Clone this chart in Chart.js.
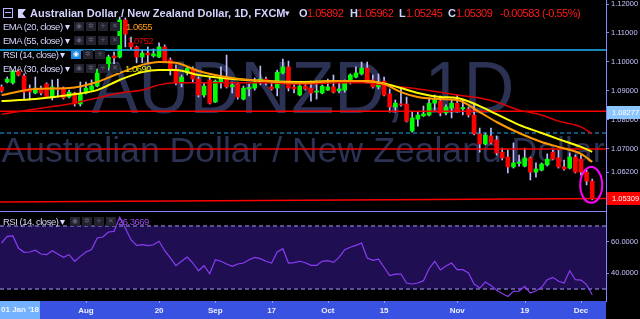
<!DOCTYPE html>
<html>
<head>
<meta charset="utf-8">
<title>AUDNZD 1D</title>
<script src="https://cdn.jsdelivr.net/npm/chart.js@4.4.1/dist/chart.umd.min.js"></script>
<style>
  html, body { margin: 0; padding: 0; background: #000; }
  #wrap { position: relative; width: 640px; height: 319px; overflow: hidden; background: #000; }
  canvas { position: absolute; left: 0; }
  #price { top: 0; }
  #rsi { top: 211px; }
  .t { position: absolute; white-space: nowrap; font-family: "Liberation Sans", Arial, sans-serif; line-height: 12px; }
  .lav { color: #d2d2ff; }
  .red { color: #ff1a1a; }
  .leg { font-size: 9.5px; letter-spacing: -0.5px; color: #d6d6ff; }
  .num { font-size: 11px; letter-spacing: -0.5px; }
  .ico { position: absolute; width: 10px; height: 9px; background: #23232f; color: #62627a; font: 7px/9px "DejaVu Sans", sans-serif; text-align: center; }
  .ico.on { background: #1e88e5; color: #fff; }
</style>
</head>
<body>
<div id="wrap">
  <canvas id="price" width="640" height="211"></canvas>
  <canvas id="rsi" width="640" height="108"></canvas>

  <!-- header -->
  <div style="position:absolute;left:3px;top:8px;width:8px;height:8px;border:1px solid #b8b8ff;"></div>
  <div style="position:absolute;left:5px;top:12px;width:6px;height:1px;background:#b8b8ff;"></div>
  <div style="position:absolute;left:18px;top:9px;width:8px;height:9px;background:#d2d2ff;clip-path:polygon(0 0,100% 0,55% 50%,100% 100%,0 100%);"></div>
  <div class="t lav" style="left:30px;top:7px;font-size:11px;font-weight:bold;">Australian Dollar / New Zealand Dollar, 1D, FXCM</div>
  <div class="t lav" style="left:285px;top:7px;font-size:9px;">▾</div>
  <div class="t lav num" style="left:299px;top:7px;font-weight:bold;">O</div><div id="hO" class="t red num" style="left:307px;top:7px;"></div>
  <div class="t lav num" style="left:350px;top:7px;font-weight:bold;">H</div><div id="hH" class="t red num" style="left:357px;top:7px;"></div>
  <div class="t lav num" style="left:399px;top:7px;font-weight:bold;">L</div><div id="hL" class="t red num" style="left:406px;top:7px;"></div>
  <div class="t lav num" style="left:448px;top:7px;font-weight:bold;">C</div><div id="hC" class="t red num" style="left:456px;top:7px;"></div>
  <div id="hChg" class="t red num" style="left:500px;top:7px;"></div>

  <!-- indicator legends -->
  <div class="t leg" style="left:3px;top:21px;">EMA (20, close) ▾</div>
  <div class="ico" style="left:74px;top:22px;">◉</div><div class="ico" style="left:86px;top:22px;">✲</div><div class="ico" style="left:98px;top:22px;">+</div><div class="ico" style="left:110px;top:22px;">✕</div>
  <div id="v20" class="t leg" style="left:126px;top:21px;color:#ff9f1a;"></div>

  <div class="t leg" style="left:3px;top:35px;">EMA (55, close) ▾</div>
  <div class="ico" style="left:74px;top:36px;">◉</div><div class="ico" style="left:86px;top:36px;">✲</div><div class="ico" style="left:98px;top:36px;">+</div><div class="ico" style="left:110px;top:36px;">✕</div>
  <div id="v55" class="t leg" style="left:127px;top:35px;color:#e00000;"></div>

  <div class="t leg" style="left:3px;top:49px;">RSI (14, close) ▾</div>
  <div class="ico on" style="left:71px;top:50px;">◉</div><div class="ico" style="left:83px;top:50px;">✲</div><div class="ico" style="left:95px;top:50px;">+</div>

  <div class="t leg" style="left:3px;top:63px;">EMA (30, close) ▾</div>
  <div class="ico" style="left:74px;top:64px;">◉</div><div class="ico" style="left:86px;top:64px;">✲</div><div class="ico" style="left:98px;top:64px;">+</div><div class="ico" style="left:110px;top:64px;">✕</div>
  <div id="v30" class="t leg" style="left:125px;top:63px;color:#e8e800;"></div>

  <div class="t leg" style="left:3px;top:216px;">RSI (14, close) ▾</div>
  <div class="ico" style="left:70px;top:217px;">◉</div><div class="ico" style="left:82px;top:217px;">✲</div><div class="ico" style="left:94px;top:217px;">+</div><div class="ico" style="left:106px;top:217px;">✕</div>
  <div id="vRsi" class="t leg" style="left:118px;top:216px;color:#9b4dff;"></div>
</div>

<script>
// daily candles, 11 Jul 2018 .. 5 Dec 2018 (index 0..105)
const opens = [
  1.0914, 1.0931, 1.0928, 1.0969, 1.0952, 1.0908, 1.0893, 1.0910, 1.0924, 1.0879,
  1.0910, 1.0910, 1.0879, 1.0893, 1.0855, 1.0893, 1.0903, 1.0917, 1.0972, 1.0979,
  1.1021, 1.1017, 1.1145, 1.1066, 1.1052, 1.1017, 1.1031, 1.1021, 1.1017, 1.1052,
  1.1007, 1.0976, 1.0928, 1.0962, 1.0976, 1.0941, 1.0886, 1.0938, 1.0862, 1.0931,
  1.0945, 1.0914, 1.0924, 1.0872, 1.0907, 1.0910, 1.0931, 1.0941, 1.0914, 1.0910,
  1.0962, 1.0983, 1.0914, 1.0886, 1.0917, 1.0910, 1.0896, 1.0893, 1.0903, 1.0914,
  1.0900, 1.0903, 1.0928, 1.0948, 1.0959, 1.0979, 1.0938, 1.0914, 1.0934, 1.0890,
  1.0845, 1.0855, 1.0855, 1.0762, 1.0803, 1.0814, 1.0817, 1.0858, 1.0865, 1.0824,
  1.0841, 1.0858, 1.0838, 1.0838, 1.0817, 1.0752, 1.0717, 1.0745, 1.0731, 1.0689,
  1.0672, 1.0638, 1.0650, 1.0641, 1.0669, 1.0620, 1.0627, 1.0645, 1.0689, 1.0669,
  1.0638, 1.0634, 1.0672, 1.0665, 1.0620, 1.05892
];
const highs = [
  1.0921, 1.0948, 1.0972, 1.0972, 1.0959, 1.0921, 1.0948, 1.0917, 1.0928, 1.0938,
  1.0941, 1.0914, 1.0903, 1.0896, 1.0931, 1.0931, 1.0938, 1.0976, 1.0990, 1.1024,
  1.1034, 1.1155, 1.1152, 1.1086, 1.1055, 1.1041, 1.1052, 1.1045, 1.1066, 1.1059,
  1.1014, 1.0990, 1.0955, 1.0983, 1.0983, 1.0948, 1.0928, 1.0948, 1.0938, 1.0983,
  1.1024, 1.0931, 1.0931, 1.0917, 1.0924, 1.0945, 1.0986, 1.0948, 1.0934, 1.0972,
  1.1010, 1.1003, 1.0921, 1.0928, 1.0931, 1.0934, 1.0934, 1.0921, 1.0941, 1.0955,
  1.0928, 1.0938, 1.0959, 1.0983, 1.1000, 1.1000, 1.0955, 1.0959, 1.0948, 1.0907,
  1.0869, 1.0910, 1.0879, 1.0827, 1.0827, 1.0848, 1.0876, 1.0886, 1.0883, 1.0852,
  1.0872, 1.0886, 1.0869, 1.0845, 1.0858, 1.0772, 1.0755, 1.0772, 1.0745, 1.0703,
  1.0696, 1.0721, 1.0679, 1.0703, 1.0672, 1.0652, 1.0652, 1.0683, 1.0696, 1.0696,
  1.0662, 1.0686, 1.0679, 1.0679, 1.0627, 1.05962
];
const lows = [
  1.0896, 1.0928, 1.0924, 1.0952, 1.0869, 1.0869, 1.0890, 1.0886, 1.0876, 1.0869,
  1.0879, 1.0872, 1.0876, 1.0848, 1.0848, 1.0890, 1.0900, 1.0914, 1.0965, 1.0972,
  1.0986, 1.1014, 1.1052, 1.1045, 1.0997, 1.0997, 1.0997, 1.1017, 1.1015, 1.1000,
  1.0955, 1.0921, 1.0914, 1.0955, 1.0931, 1.0879, 1.0879, 1.0855, 1.0860, 1.0910,
  1.0910, 1.0893, 1.0872, 1.0869, 1.0883, 1.0903, 1.0921, 1.0921, 1.0903, 1.0883,
  1.0959, 1.0900, 1.0893, 1.0883, 1.0903, 1.0865, 1.0872, 1.0890, 1.0902, 1.0893,
  1.0893, 1.0896, 1.0924, 1.0945, 1.0955, 1.0928, 1.0910, 1.0907, 1.0883, 1.0827,
  1.0827, 1.0848, 1.0793, 1.0758, 1.0779, 1.0812, 1.0814, 1.0834, 1.0814, 1.0817,
  1.0807, 1.0827, 1.0817, 1.0810, 1.0748, 1.0689, 1.0714, 1.0717, 1.0679, 1.0662,
  1.0617, 1.0634, 1.0641, 1.0638, 1.0593, 1.0603, 1.0624, 1.0641, 1.0662, 1.0634,
  1.0627, 1.0631, 1.0617, 1.0610, 1.0576, 1.05245
];
const closes = [
  1.0900, 1.0941, 1.0969, 1.0955, 1.0896, 1.0897, 1.0910, 1.0893, 1.0879, 1.0914,
  1.0905, 1.0876, 1.0896, 1.0855, 1.0890, 1.0910, 1.0917, 1.0972, 1.0983, 1.1017,
  1.1014, 1.1145, 1.1096, 1.1052, 1.1017, 1.1031, 1.1024, 1.1028, 1.1052, 1.1003,
  1.0972, 1.0928, 1.0948, 1.0979, 1.0941, 1.0886, 1.0917, 1.0858, 1.0934, 1.0945,
  1.0914, 1.0921, 1.0879, 1.0910, 1.0912, 1.0931, 1.0941, 1.0928, 1.0907, 1.0965,
  1.0983, 1.0910, 1.0907, 1.0917, 1.0907, 1.0893, 1.0900, 1.0917, 1.0914, 1.0896,
  1.0907, 1.0931, 1.0955, 1.0962, 1.0979, 1.0931, 1.0914, 1.0928, 1.0886, 1.0845,
  1.0858, 1.0852, 1.0796, 1.0807, 1.0817, 1.0821, 1.0858, 1.0872, 1.0824, 1.0845,
  1.0858, 1.0831, 1.0843, 1.0817, 1.0752, 1.0717, 1.0748, 1.0721, 1.0686, 1.0669,
  1.0638, 1.0652, 1.0655, 1.0669, 1.0620, 1.0631, 1.0648, 1.0665, 1.0665, 1.0638,
  1.0631, 1.0672, 1.0620, 1.0620, 1.05892, 1.05309
];

// EMA values at these candle indexes
const emaIdx = [0, 6, 12, 17, 21, 25, 28, 31, 35, 41, 47, 53, 60, 64, 68, 71, 74, 78, 81, 85, 88, 92, 96, 99, 103, 105];
const ema20 = [1.0886, 1.0907, 1.0910, 1.0931, 1.0962, 1.0990, 1.1000, 1.0997, 1.0969, 1.0945, 1.0934, 1.0928, 1.0934,
               1.0934, 1.0924, 1.0896, 1.0879, 1.0872, 1.0869, 1.0827, 1.0793, 1.0755, 1.0724, 1.0707, 1.0683, 1.0655];
const ema30 = [1.0865, 1.0872, 1.0886, 1.0903, 1.0938, 1.0965, 1.0972, 1.0972, 1.0955, 1.0941, 1.0934, 1.0931, 1.0934,
               1.0934, 1.0926, 1.0910, 1.0893, 1.0879, 1.0876, 1.0848, 1.0820, 1.0783, 1.0755, 1.0734, 1.0707, 1.0690];
const ema55 = [1.0820, 1.0838, 1.0855, 1.0876, 1.0893, 1.0903, 1.0921, 1.0928, 1.0928, 1.0928, 1.0928, 1.0924, 1.0928,
               1.0928, 1.0921, 1.0914, 1.0907, 1.0896, 1.0886, 1.0876, 1.0862, 1.0834, 1.0817, 1.0796, 1.0776, 1.0752];

// RSI (14) per candle
const rsi = [
  59.2, 63.4, 63.7, 56.0, 53.3, 53.5, 54.6, 52.2, 51.8, 54.3,
  52.2, 50.1, 51.8, 47.6, 50.7, 53.5, 55.0, 62.4, 63.0, 66.2,
  66.6, 75.5, 68.7, 61.3, 57.7, 58.1, 57.5, 58.1, 60.3, 54.3,
  49.7, 44.8, 47.6, 50.3, 46.5, 41.6, 44.8, 39.7, 48.6, 47.6,
  45.9, 44.4, 45.9, 46.5, 48.6, 50.1, 49.3, 47.6, 46.5, 53.5,
  55.6, 46.5, 46.7, 47.6, 46.7, 45.0, 45.0, 47.6, 48.0, 46.9,
  50.1, 55.0, 56.5, 57.7, 59.2, 49.7, 48.2, 49.0, 43.8, 38.5,
  39.5, 39.5, 33.8, 33.2, 33.8, 35.3, 42.9, 47.6, 42.1, 44.6,
  46.5, 42.3, 42.3, 40.2, 33.2, 30.6, 34.4, 32.3, 29.2, 27.2,
  25.3, 28.5, 28.7, 31.7, 27.5, 28.9, 31.1, 35.9, 37.4, 34.9,
  33.8, 41.6, 35.9, 35.7, 32.8, 26.3669
];

// drawn levels
const cyanLevel = 1.1041;
const redLevel = 1.0830;
const dashLevel = 1.0755;
const redLevel2 = 1.0700;
const bottomLine = [1.0517, 1.0529];

// axis ticks
const priceTicks = [1.12, 1.11, 1.10, 1.09, 1.08, 1.07, 1.062];
const priceMarks = [
  { value: 1.08277, bg: '#8cc6ff', fg: '#ffffff' },
  { value: 1.05309, bg: '#ff0000', fg: '#ffffff' }
];
const rsiTicks = [60, 40];
const dateTickIdx = [15, 28, 38, 48, 58, 68, 81, 93, 103];
const dateTickLabels = ['Aug', '20', 'Sep', '17', 'Oct', '15', 'Nov', '19', 'Dec'];

const X_MIN = -0.28, X_MAX = 107.45;
const AXIS_W = 34;
const LAV = '#c4c4ff';
const AXIS_LINE = '#8585ff';
const FONT = '"Liberation Sans", Arial, sans-serif';

Chart.defaults.font.family = FONT;

// header texts
const last = closes.length - 1;
const chg = closes[last] - closes[last - 1];
document.getElementById('hO').textContent = opens[last].toFixed(5);
document.getElementById('hH').textContent = highs[last].toFixed(5);
document.getElementById('hL').textContent = lows[last].toFixed(5);
document.getElementById('hC').textContent = closes[last].toFixed(5);
document.getElementById('hChg').textContent =
  chg.toFixed(5) + ' (' + (chg / closes[last - 1] * 100).toFixed(2) + '%)';
document.getElementById('v20').textContent = ema20[ema20.length - 1].toFixed(4);
document.getElementById('v55').textContent = ema55[ema55.length - 1].toFixed(4);
document.getElementById('v30').textContent = ema30[ema30.length - 1].toFixed(4);
document.getElementById('vRsi').textContent = rsi[last].toFixed(4);

const idx = opens.map((_, i) => i);
const candleColors = idx.map(i => closes[i] >= opens[i] ? '#00ff00' : '#ff0000');

function hLine(a, b) {
  return [{ x: X_MIN, y: a }, { x: X_MAX, y: b === undefined ? a : b }];
}
function emaPoints(vals) {
  return emaIdx.map((x, k) => ({ x: x, y: vals[k] }));
}
// right axis: fixed width, no extra vertical padding for the labels
function fitRight(s) {
  s.width = AXIS_W;
  s.paddingTop = 0;
  s.paddingBottom = 0;
}

const priceDecor = {
  id: 'priceDecor',
  beforeDatasetsDraw(chart) {
    const { ctx, chartArea } = chart;
    const cx = (chartArea.left + chartArea.right) / 2;
    ctx.save();
    ctx.fillStyle = '#2c3253';
    ctx.textAlign = 'center';
    ctx.textBaseline = 'alphabetic';
    const fit = (text, size, width, y) => {
      ctx.font = size + 'px ' + FONT;
      const w = ctx.measureText(text).width;
      ctx.save();
      ctx.translate(cx, y);
      ctx.scale(width / w, 1);
      ctx.fillText(text, 0, 0);
      ctx.restore();
    };
    fit('AUDNZD, 1D', 75, 423, 113);
    fit('Australian Dollar / New Zealand Dollar', 35, 603, 162);
    ctx.restore();
  },
  afterDatasetsDraw(chart) {
    const { ctx, scales } = chart;
    const x = scales.x.getPixelForValue(last);
    const yTop = scales.y.getPixelForValue(highs[last - 1]);
    const yBot = scales.y.getPixelForValue(lows[last]);
    ctx.save();
    ctx.strokeStyle = '#ff00ff';
    ctx.lineWidth = 2;
    ctx.beginPath();
    ctx.ellipse(x - 1, (yTop + yBot) / 2, 11, (yBot - yTop) / 2 + 3, 0, 0, Math.PI * 2);
    ctx.stroke();
    ctx.restore();
  },
  afterDraw(chart) {
    const { ctx, chartArea, scales } = chart;
    ctx.save();
    ctx.font = '7.5px ' + FONT;
    ctx.textAlign = 'left';
    ctx.textBaseline = 'middle';
    priceMarks.forEach(m => {
      const y = Math.round(scales.y.getPixelForValue(m.value));
      ctx.fillStyle = m.bg;
      ctx.fillRect(chartArea.right + 1, y - 6, AXIS_W - 1, 13);
      ctx.fillStyle = m.fg;
      ctx.fillText(m.value.toFixed(5), chartArea.right + 6, y + 0.5);
    });
    ctx.restore();
  }
};

new Chart(document.getElementById('price'), {
  type: 'bar',
  data: {
    datasets: [
      { type: 'line', data: emaPoints(ema20), borderColor: '#ff9900', borderWidth: 2, pointRadius: 0, cubicInterpolationMode: 'monotone', order: 1 },
      { type: 'line', data: emaPoints(ema30), borderColor: '#ffff00', borderWidth: 2, pointRadius: 0, cubicInterpolationMode: 'monotone', order: 1 },
      { type: 'line', data: emaPoints(ema55), borderColor: '#e00000', borderWidth: 1.5, pointRadius: 0, cubicInterpolationMode: 'monotone', order: 1 },
      { type: 'line', data: hLine(cyanLevel), borderColor: '#1fb4ff', borderWidth: 1.5, pointRadius: 0, order: 2 },
      { type: 'line', data: hLine(redLevel), borderColor: '#ff0000', borderWidth: 1.5, pointRadius: 0, order: 2 },
      { type: 'line', data: hLine(dashLevel), borderColor: '#1fa8f5', borderWidth: 1.2, borderDash: [4, 3], pointRadius: 0, order: 2 },
      { type: 'line', data: hLine(redLevel2), borderColor: '#ff0000', borderWidth: 1.5, pointRadius: 0, order: 2 },
      { type: 'line', data: hLine(bottomLine[0], bottomLine[1]), borderColor: '#ff0000', borderWidth: 1.5, pointRadius: 0, order: 2 },
      { data: idx.map(i => ({ x: i, y: [lows[i], highs[i]] })), backgroundColor: '#bcbcff', barThickness: 1, grouped: false, order: 6 },
      { data: idx.map(i => ({ x: i, y: [opens[i], closes[i]] })), backgroundColor: candleColors, barThickness: 4, minBarLength: 1, grouped: false, order: 5 }
    ]
  },
  options: {
    responsive: false,
    animation: false,
    devicePixelRatio: 1,
    layout: { padding: 0 },
    plugins: { legend: { display: false }, tooltip: { enabled: false } },
    scales: {
      x: { type: 'linear', min: X_MIN, max: X_MAX, offset: false, display: false },
      y: {
        type: 'linear', position: 'right', min: 1.0486, max: 1.12138,
        afterFit: fitRight,
        afterBuildTicks: s => { s.ticks = priceTicks.map(v => ({ value: v })); },
        ticks: { color: LAV, font: { size: 7.5 }, padding: 2, autoSkip: false, callback: v => Number(v).toFixed(5) },
        grid: { drawOnChartArea: false, drawTicks: true, tickLength: 3, color: AXIS_LINE },
        border: { display: true, color: AXIS_LINE }
      }
    }
  },
  plugins: [priceDecor]
});

const rsiDecor = {
  id: 'rsiDecor',
  beforeDraw(chart) {
    const { ctx, chartArea, scales } = chart;
    ctx.save();
    ctx.fillStyle = '#3a52e2';
    ctx.fillRect(chartArea.left, scales.x.top, chartArea.right - chartArea.left, scales.x.bottom - scales.x.top);
    ctx.restore();
  },
  afterDraw(chart) {
    const { ctx, chartArea, scales } = chart;
    ctx.save();
    ctx.strokeStyle = AXIS_LINE;
    ctx.lineWidth = 1;
    ctx.beginPath();
    ctx.moveTo(0, chartArea.top + 0.5);
    ctx.lineTo(chartArea.right, chartArea.top + 0.5);
    ctx.stroke();
    // small tick marks on top of the date axis
    ctx.strokeStyle = '#9aa6ff';
    ctx.beginPath();
    dateTickIdx.forEach(v => {
      const x = Math.round(scales.x.getPixelForValue(v)) + 0.5;
      ctx.moveTo(x, scales.x.top);
      ctx.lineTo(x, scales.x.top + 2);
    });
    ctx.stroke();
    ctx.fillStyle = '#72b2ff';
    ctx.fillRect(0, scales.x.top, 40, scales.x.bottom - scales.x.top);
    ctx.fillStyle = '#f2f6ff';
    ctx.font = 'bold 8px ' + FONT;
    ctx.textAlign = 'center';
    ctx.textBaseline = 'middle';
    ctx.fillText("01 Jan '18", 20, (scales.x.top + scales.x.bottom) / 2);
    ctx.restore();
  }
};

new Chart(document.getElementById('rsi'), {
  type: 'line',
  data: {
    datasets: [
      { data: hLine(70), borderColor: '#a69bff', borderWidth: 1, borderDash: [4, 3], pointRadius: 0, fill: '+1', backgroundColor: '#1f0f52', order: 3 },
      { data: hLine(30), borderColor: '#a69bff', borderWidth: 1, borderDash: [4, 3], pointRadius: 0, fill: false, order: 2 },
      { data: idx.map(i => ({ x: i, y: rsi[i] })), borderColor: '#8a3cf5', borderWidth: 1.2, pointRadius: 0, fill: false, order: 1 }
    ]
  },
  options: {
    responsive: false,
    animation: false,
    devicePixelRatio: 1,
    layout: { padding: 0 },
    plugins: { legend: { display: false }, tooltip: { enabled: false } },
    scales: {
      x: {
        type: 'linear', min: X_MIN, max: X_MAX, offset: false,
        afterFit: s => { s.height = 18; s.paddingLeft = 0; s.paddingRight = 0; },
        afterBuildTicks: s => { s.ticks = dateTickIdx.map(v => ({ value: v })); },
        ticks: { color: '#eceeff', font: { size: 8, weight: 'bold' }, padding: 5, autoSkip: false, maxRotation: 0, callback: (v, i) => dateTickLabels[i] },
        grid: { display: false, drawTicks: false },
        border: { display: false }
      },
      y: {
        type: 'linear', position: 'right', min: 22.4, max: 79.5,
        afterFit: fitRight,
        afterBuildTicks: s => { s.ticks = rsiTicks.map(v => ({ value: v })); },
        ticks: { color: LAV, font: { size: 7.5 }, padding: 2, autoSkip: false, callback: v => Number(v).toFixed(4) },
        grid: { drawOnChartArea: false, drawTicks: true, tickLength: 3, color: AXIS_LINE },
        border: { display: true, color: AXIS_LINE }
      }
    }
  },
  plugins: [rsiDecor]
});
</script>
</body>
</html>
